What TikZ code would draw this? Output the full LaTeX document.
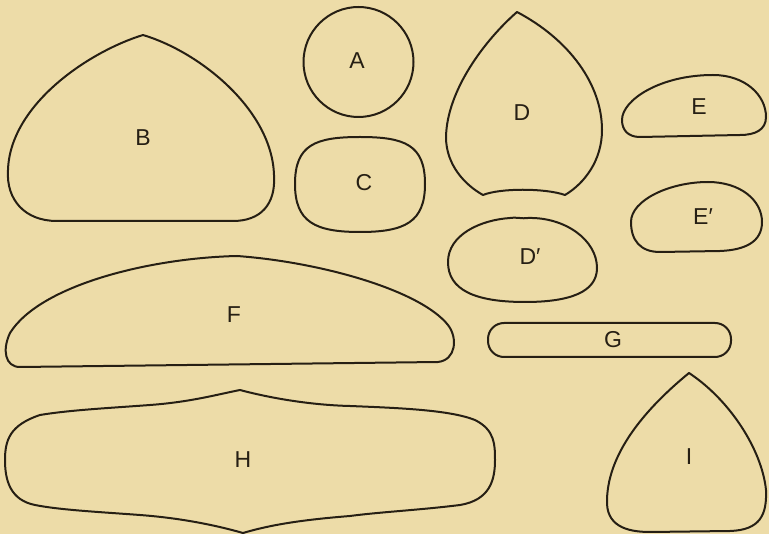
\documentclass[tikz,border=0pt]{standalone}
\usepackage{fontspec}
\setmainfont{Liberation Sans}
\definecolor{paper}{HTML}{EDDCA8}
\definecolor{ink}{HTML}{261F14}
\begin{document}
\begin{tikzpicture}[x=1pt,y=-1pt,
  outline/.style={draw=ink,line width=2pt,line join=round},
  lbl/.style={text=ink,inner sep=0pt,font=\fontsize{23}{23}\selectfont}]
\fill[paper] (0,0) rectangle (769,534);
\useasboundingbox (0,0) rectangle (769,534);
% A
\draw[outline] (358.5,62) circle (55);
% B
\draw[outline] (143,35) .. controls (200,52) and (272,110) .. (274,175)
  .. controls (276,205) and (260,221) .. (233,221) -- (57,221)
  .. controls (25,221) and (6,200) .. (8,170)
  .. controls (10,105) and (88,52) .. (143,35) -- cycle;
% C
\draw[outline] (360,137) .. controls (405,137) and (425,145) .. (425,184)
  .. controls (425,222) and (405,232) .. (360,232)
  .. controls (315,232) and (295,222) .. (295,184)
  .. controls (295,145) and (315,137) .. (360,137) -- cycle;
% D
\draw[outline] (517,12) .. controls (485,40) and (447,90) .. (446,137)
  .. controls (446,165) and (465,185) .. (483,195)
  .. controls (500,188) and (545,188) .. (565,195)
  .. controls (585,183) and (602,160) .. (602,130)
  .. controls (602,85) and (570,40) .. (517,12) -- cycle;
% D'
\draw[outline] (448,262) .. controls (448,235) and (480,220) .. (510,218)
  .. controls (518,217) and (522,219) .. (528,218)
  .. controls (565,217) and (597,240) .. (597,268)
  .. controls (597,292) and (570,302) .. (525,302)
  .. controls (475,302) and (448,290) .. (448,262) -- cycle;
% E
\draw[outline] (622,120) .. controls (622,100) and (660,75) .. (713,75)
  .. controls (745,75) and (766,95) .. (766,117)
  .. controls (766,130) and (755,135) .. (740,135) -- (640,137)
  .. controls (628,137) and (622,130) .. (622,120) -- cycle;
% E'
\draw[outline] (631,222) .. controls (631,200) and (670,182) .. (708,182)
  .. controls (740,182) and (762,200) .. (762,222)
  .. controls (762,242) and (745,250) .. (720,251) -- (660,252)
  .. controls (640,252) and (631,240) .. (631,222) -- cycle;
% F
\draw[outline] (237,256) .. controls (320,262) and (420,290) .. (448,325)
  .. controls (458,338) and (456,360) .. (438,362) -- (20,367)
  .. controls (5,367) and (2,350) .. (10,333)
  .. controls (40,285) and (150,258) .. (237,256) -- cycle;
% G
\draw[outline,rounded corners=16] (488,323) rectangle (731,357);
% H
\draw[outline] (240,390) .. controls (270,398) and (310,405) .. (350,406)
  .. controls (400,408) and (450,410) .. (475,420)
  .. controls (495,430) and (495,445) .. (495,460)
  .. controls (495,480) and (490,500) .. (460,505)
  .. controls (420,510) and (380,512) .. (350,516)
  .. controls (300,520) and (270,525) .. (243,533)
  .. controls (215,525) and (180,518) .. (140,515)
  .. controls (100,512) and (60,510) .. (35,505)
  .. controls (10,500) and (5,480) .. (5,460)
  .. controls (5,440) and (10,425) .. (40,415)
  .. controls (70,410) and (110,408) .. (150,405)
  .. controls (190,402) and (215,395) .. (240,390) -- cycle;
% I
\draw[outline] (689,373) .. controls (650,405) and (608,450) .. (607,500)
  .. controls (606,525) and (625,532) .. (650,532) -- (730,531)
  .. controls (760,530) and (767,515) .. (766,490)
  .. controls (762,450) and (730,400) .. (689,373) -- cycle;
% labels
\node[lbl] (lA) at (357,61) {A};
\node[lbl] (lB) at (143,138) {B};
\node[lbl] (lC) at (364,183) {C};
\node[lbl] (lD) at (522,113) {D};
\node[lbl] (lDp) at (530,257) {D′};
\node[lbl] (lE) at (699,107) {E};
\node[lbl] (lEp) at (703,217) {E′};
\node[lbl] (lF) at (234,315) {F};
\node[lbl] (lG) at (613,340) {G};
\node[lbl] (lH) at (243,460) {H};
\node[lbl] (lI) at (689,457) {I};
\end{tikzpicture}
\end{document}
